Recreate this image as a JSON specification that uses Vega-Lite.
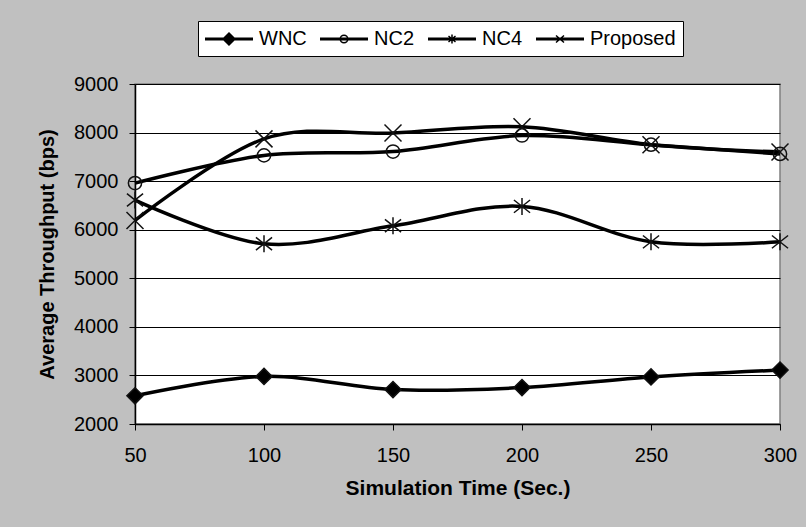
{
  "$schema": "https://vega.github.io/schema/vega-lite/v6.json",
  "width": 645,
  "height": 340,
  "autosize": {"type": "none"},
  "padding": {"left": 135, "top": 84, "right": 26, "bottom": 103},
  "background": "#c0c0c0",
  "config": {
    "font": "Liberation Sans",
    "view": {"fill": "white", "stroke": "#808080", "strokeWidth": 1.5}
  },
  "data": {
    "values": [
      {"t": 50, "series": "WNC", "v": 2580},
      {"t": 100, "series": "WNC", "v": 2980},
      {"t": 150, "series": "WNC", "v": 2710},
      {"t": 200, "series": "WNC", "v": 2750},
      {"t": 250, "series": "WNC", "v": 2970},
      {"t": 300, "series": "WNC", "v": 3110},
      {"t": 50, "series": "NC2", "v": 6960},
      {"t": 100, "series": "NC2", "v": 7530},
      {"t": 150, "series": "NC2", "v": 7610},
      {"t": 200, "series": "NC2", "v": 7940},
      {"t": 250, "series": "NC2", "v": 7750},
      {"t": 300, "series": "NC2", "v": 7560},
      {"t": 50, "series": "NC4", "v": 6610},
      {"t": 100, "series": "NC4", "v": 5710},
      {"t": 150, "series": "NC4", "v": 6080},
      {"t": 200, "series": "NC4", "v": 6480},
      {"t": 250, "series": "NC4", "v": 5750},
      {"t": 300, "series": "NC4", "v": 5750},
      {"t": 50, "series": "Proposed", "v": 6190},
      {"t": 100, "series": "Proposed", "v": 7870},
      {"t": 150, "series": "Proposed", "v": 7990},
      {"t": 200, "series": "Proposed", "v": 8120},
      {"t": 250, "series": "Proposed", "v": 7750},
      {"t": 300, "series": "Proposed", "v": 7600}
    ]
  },
  "encoding": {
    "x": {
      "field": "t",
      "type": "quantitative",
      "scale": {"domain": [50, 300], "nice": false, "zero": false},
      "axis": {
        "title": "Simulation Time (Sec.)",
        "values": [50, 100, 150, 200, 250, 300],
        "grid": false,
        "domainColor": "black",
        "domainWidth": 1.5,
        "tickColor": "black",
        "tickSize": 6,
        "labelFontSize": 20,
        "labelColor": "black",
        "labelPadding": 15,
        "labelFlush": false,
        "titleFontSize": 21,
        "titleFontWeight": "bold",
        "titleColor": "black",
        "titlePadding": 12
      }
    },
    "y": {
      "field": "v",
      "type": "quantitative",
      "scale": {"domain": [2000, 9000], "nice": false, "zero": false},
      "axis": {
        "title": "Average Throughput (bps)",
        "values": [2000, 3000, 4000, 5000, 6000, 7000, 8000, 9000],
        "format": "d",
        "grid": true,
        "gridColor": "black",
        "gridWidth": 1,
        "domainColor": "black",
        "domainWidth": 1.5,
        "tickColor": "black",
        "tickSize": 6,
        "labelFontSize": 20,
        "labelColor": "black",
        "labelPadding": 11,
        "titleFontSize": 20,
        "titleFontWeight": "bold",
        "titleColor": "black",
        "titlePadding": 16
      }
    }
  },
  "layer": [
    {
      "mark": {"type": "line", "interpolate": "cardinal", "strokeWidth": 3.5, "color": "black"},
      "encoding": {
        "detail": {"field": "series", "type": "nominal"}
      }
    },
    {
      "mark": {"type": "point", "filled": true, "stroke": "#111", "strokeWidth": 1.5, "opacity": 1, "size": 289},
      "encoding": {
        "shape": {
          "field": "series",
          "type": "nominal",
          "scale": {
            "domain": ["WNC", "NC2", "NC4", "Proposed"],
            "range": [
              "M0,-0.95L0.95,0L0,0.95L-0.95,0Z",
              "M0.78,0A0.78,0.78,0,1,1,-0.78,0A0.78,0.78,0,1,1,0.78,0Z",
              "M-0.95,-0.75L0.95,0.75M-0.95,0.75L0.95,-0.75M0,-1L0,1",
              "M-1,-1L1,1M-1,1L1,-1"
            ]
          },
          "legend": null
        },
        "fill": {
          "condition": {"test": "datum.series === 'WNC'", "value": "black"},
          "value": "transparent"
        }
      }
    },
    {
      "transform": [{"filter": "datum.t < 0"}],
      "mark": {"type": "point", "filled": false, "color": "black", "strokeWidth": 1.5, "opacity": 1},
      "encoding": {
        "shape": {
          "field": "series",
          "type": "nominal",
          "scale": {
            "domain": ["WNC", "NC2", "NC4", "Proposed"],
            "range": [
              "M-2.4,-0.08L2.4,-0.08M-2.4,0.08L2.4,0.08M0,-0.6L0.6,0L0,0.6L-0.6,0ZM0,-0.45L0.45,0L0,0.45L-0.45,0ZM0,-0.3L0.3,0L0,0.3L-0.3,0ZM0,-0.15L0.15,0L0,0.15L-0.15,0Z",
              "M-2.4,-0.08L2.4,-0.08M-2.4,0.08L2.4,0.08M0.38,0A0.38,0.38,0,1,1,-0.38,0A0.38,0.38,0,1,1,0.38,0Z",
              "M-2.4,-0.08L2.4,-0.08M-2.4,0.08L2.4,0.08M-0.35,-0.3L0.35,0.3M-0.35,0.3L0.35,-0.3M0,-0.45L0,0.45",
              "M-2.4,-0.08L2.4,-0.08M-2.4,0.08L2.4,0.08M-0.4,-0.35L0.4,0.35M-0.4,0.35L0.4,-0.35"
            ]
          },
          "legend": {
            "orient": "none",
            "legendX": 63,
            "legendY": -63,
            "direction": "horizontal",
            "title": null,
            "fillColor": "white",
            "strokeColor": "black",
            "padding": 7,
            "labelFontSize": 20,
            "labelColor": "black",
            "symbolSize": 400,
            "symbolOffset": 13,
            "labelOffset": 19,
            "columnPadding": 10,
            "symbolStrokeWidth": 1.5,
            "symbolStrokeColor": "black",
            "symbolFillColor": "transparent",
            "symbolOpacity": 1
          }
        }
      }
    }
  ],
  "resolve": {"scale": {"shape": "independent"}, "legend": {"shape": "independent"}}
}
